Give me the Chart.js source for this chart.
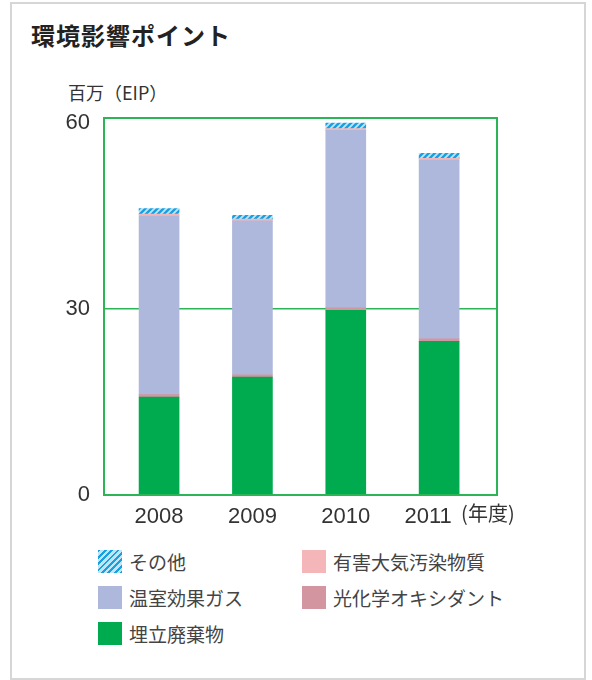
<!DOCTYPE html>
<html>
<head>
<meta charset="utf-8">
<script src="https://cdn.jsdelivr.net/npm/chart.js@4/dist/chart.umd.min.js"></script>
<style>
    body { margin: 0; background: #fff; font-family: "Noto Sans CJK JP", sans-serif; }
    #wrap { position: relative; width: 592px; height: 680px; overflow: hidden; }
    #frame { position: absolute; left: 10px; top: 2px; width: 572px; height: 674px; border: 2px solid #d6d6d6; }
    #title { position: absolute; left: 31px; top: 23px; font-size: 24px; line-height: 24px; font-weight: bold; color: #222; letter-spacing: 1px; }
    #unit { position: absolute; left: 68px; top: 83px; font-size: 18px; line-height: 18px; color: #333; }
    #chartBox { position: absolute; left: 0; top: 0; width: 592px; height: 540px; }
    #legend { position: absolute; left: 98px; top: 550px; display: grid; grid-template-columns: 204px 220px; row-gap: 13px; }
    .item { display: flex; align-items: center; height: 23px; font-size: 19px; color: #444; }
    .swatch { width: 24px; height: 23px; margin-right: 7px; flex: none; }
</style>
</head>
<body>
<div id="wrap">
    <div id="frame"></div>
    <div id="title">環境影響ポイント</div>
    <div id="unit">百万（EIP）</div>
    <div id="chartBox"><canvas id="chart" width="592" height="540"></canvas></div>
    <div id="legend"></div>
</div>
<script>
// fiscal years on the x axis
const years = ['2008', '2009', '2010', '2011'];
const yearSuffix = '(年度)';

// stacked values, bottom to top (million EIP)
const landfill = [15.8, 19.0, 29.8, 24.8];        // 埋立廃棄物
const photochem = [0.4, 0.4, 0.4, 0.4];           // 光化学オキシダント
const greenhouse = [28.8, 24.8, 28.6, 28.8];      // 温室効果ガス
const hazardous = [0.3, 0.3, 0.3, 0.3];           // 有害大気汚染物質
const others = [0.9, 0.6, 0.9, 0.8];              // その他

const yTicks = [0, 30, 60];

// hatched fill for "その他"
function makeHatch() {
    const c = document.createElement('canvas');
    c.width = 6;
    c.height = 6;
    const g = c.getContext('2d');
    g.fillStyle = '#bfe5f6';
    g.fillRect(0, 0, 6, 6);
    g.strokeStyle = '#1a9fe0';
    g.lineWidth = 2.4;
    g.beginPath();
    g.moveTo(-1, 7); g.lineTo(7, -1);
    g.moveTo(-4, 4); g.lineTo(4, -4);
    g.moveTo(2, 10); g.lineTo(10, 2);
    g.stroke();
    return g.createPattern(c, 'repeat');
}

const hatch = makeHatch();
const green = '#00aa4e';
const frameGreen = '#2cb557';

const series = [
    { label: '埋立廃棄物', data: landfill, color: green },
    { label: '光化学オキシダント', data: photochem, color: '#d3959f' },
    { label: '温室効果ガス', data: greenhouse, color: '#aeb8dc' },
    { label: '有害大気汚染物質', data: hazardous, color: '#f4b6b8' },
    { label: 'その他', data: others, color: hatch }
];

const datasets = series.map(s => ({
    label: s.label,
    data: s.data.map((v, i) => ({ x: i, y: v })),
    backgroundColor: s.color,
    borderWidth: 0,
    barThickness: 40
}));

// green frame around the plot + "(年度)" after the last year
const framePlugin = {
    id: 'frame',
    afterDraw(chart) {
        const { ctx, chartArea: a, scales } = chart;
        ctx.save();
        ctx.strokeStyle = frameGreen;
        ctx.lineWidth = 2;
        ctx.strokeRect(a.left, a.top, a.right - a.left, a.bottom - a.top);
        ctx.fillStyle = '#333';
        ctx.font = '20px "Noto Sans CJK JP"';
        ctx.textBaseline = 'middle';
        ctx.textAlign = 'left';
        ctx.fillText(yearSuffix, scales.x.getPixelForValue(years.length - 1) + 22, a.bottom + 18);
        ctx.restore();
    }
};

new Chart(document.getElementById('chart'), {
    type: 'bar',
    data: { datasets: datasets },
    plugins: [framePlugin],
    options: {
        responsive: false,
        animation: false,
        layout: { padding: { top: 118, right: 95, left: 0, bottom: 0 } },
        plugins: {
            legend: { display: false },
            tooltip: { enabled: false }
        },
        scales: {
            x: {
                type: 'linear',
                stacked: true,
                offset: false,
                min: -0.59,
                max: 3.62,
                grid: { display: false },
                border: { display: false },
                afterFit: (s) => { s.height = 45; },
                afterBuildTicks: (s) => { s.ticks = years.map((y, i) => ({ value: i })); },
                ticks: {
                    padding: 1,
                    color: '#333',
                    font: { family: 'Liberation Sans', size: 22 },
                    // nudge the last year left to leave room for the unit
                    callback: (v) => v === years.length - 1 ? years[v] + '\u2002\u2002' : years[v]
                }
            },
            y: {
                stacked: true,
                min: 0,
                max: 60.8,
                afterFit: (s) => { s.width = 104; },
                afterBuildTicks: (s) => { s.ticks = yTicks.map(v => ({ value: v })); },
                grid: {
                    drawTicks: false,
                    lineWidth: 1.5,
                    color: (c) => c.tick && c.tick.value === 30 ? frameGreen : 'rgba(0,0,0,0)'
                },
                border: { display: false },
                ticks: {
                    padding: 14,
                    color: '#333',
                    font: { family: 'Liberation Sans', size: 22 }
                }
            }
        }
    }
});

// HTML legend, row order matches the stack top to bottom
const legendOrder = ['その他', '有害大気汚染物質', '温室効果ガス', '光化学オキシダント', '埋立廃棄物'];
const legend = document.getElementById('legend');
legendOrder.forEach(name => {
    const s = series.find(x => x.label === name);
    const item = document.createElement('div');
    item.className = 'item';
    const sw = document.createElement('span');
    sw.className = 'swatch';
    if (name === 'その他') {
        sw.style.background = 'repeating-linear-gradient(135deg, #1a9fe0 0 2px, #bfe5f6 2px 4.5px)';
    } else {
        sw.style.background = s.color;
    }
    item.appendChild(sw);
    item.appendChild(document.createTextNode(name));
    legend.appendChild(item);
});
</script>
</body>
</html>
